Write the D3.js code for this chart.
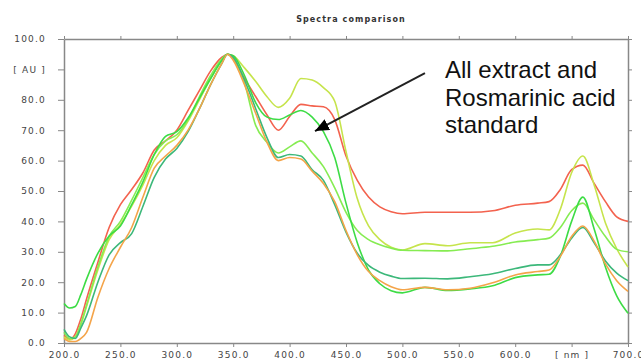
<!DOCTYPE html>
<html>
<head>
<meta charset="utf-8">
<script src="https://cdn.jsdelivr.net/npm/d3@7"></script>
<style>
  body { margin: 0; background: #fff; }
  svg { display: block; }
  .tick text { font-family: "DejaVu Sans", sans-serif; font-size: 9px; fill: #444; letter-spacing: 1.2px; }
  .axis path, .axis line { stroke: #888; }
</style>
</head>
<body>
<div id="vis"></div>
<script>
const FRAME_WIDTH = 641;
const FRAME_HEIGHT = 360;
const MARGINS = {left: 64, right: 13, top: 39, bottom: 17};

// wavelengths [nm]
const wavelengths = [200, 205, 210, 215, 220, 230, 240, 250, 260, 270, 280, 290, 300, 310, 320, 330, 340, 345,
  350, 360, 370, 380, 390, 400, 410, 420, 430, 440, 450, 460, 470, 480, 490, 500, 520, 540, 560, 580,
  600, 620, 630, 640, 650, 660, 670, 680, 690, 700];

// absorbance [AU] per spectrum
const red = [2.5, 1.2, 3, 8, 14.5, 26.5, 38, 45.5, 50.5, 56, 63.5, 66.5, 70, 76.5, 83, 89.5, 94, 95,
  93.5, 87, 81, 75, 70, 74.5, 78.5, 78, 77.7, 73.5, 61.5, 53.5, 48, 44.8, 43.2, 42.5, 43, 43, 43, 43.5,
  45.3, 46, 46.5, 50.5, 57, 58.5, 52.5, 46.5, 41.5, 40];
const yellowGreen = [2, 1, 2, 6, 12, 24, 34, 39, 45, 52, 60, 65, 67.5, 73, 80, 87, 93, 95,
  94.5, 90.5, 86, 81, 77.5, 80.5, 87, 86.5, 84, 79.5, 63, 47.5, 38.5, 34, 31.5, 30.6, 32.7, 32, 33, 33,
  36.2, 37.5, 37.2, 44, 56, 61.5, 52, 39.5, 31, 25];
const lightGreen = [3.5, 1.5, 2, 6.5, 12.5, 25, 35, 40, 47, 54.5, 62, 66.5, 68.5, 73.5, 81, 88, 93.5, 95,
  94, 85.5, 71.5, 66, 62.5, 64.5, 66.5, 62.5, 58, 51, 43, 37, 34, 32.3, 31.2, 30.5, 30.4, 30.3, 31, 31.8,
  33.2, 34, 34.5, 38, 43.5, 46, 40.5, 35, 30.8, 30];
const green = [13, 11.5, 12, 16, 21, 29.5, 35.2, 38.5, 45.5, 53, 62, 68, 69.5, 74, 80.5, 87, 93, 95,
  94.5, 88, 79, 74.3, 73.5, 75, 76.5, 74.3, 69.5, 61, 46, 33, 24, 19.5, 17.2, 16.5, 18.3, 17.3, 17.8, 18.8,
  21.5, 22.4, 22.6, 28.5, 40, 48, 37.5, 25, 15.5, 9.8];
const teal = [4.5, 2, 1.5, 5, 9, 20, 29, 33, 36, 45, 54.5, 60.5, 64, 69.5, 77, 85, 92, 95,
  94, 86.5, 77, 67.5, 61, 62, 61.5, 57, 53.5, 45.5, 36.5, 29.5, 25.5, 23.3, 22, 21.2, 21.3, 21.1, 21.8, 22.8,
  24.5, 25.7, 25.7, 29, 34.5, 38, 33, 27, 23, 20.5];
const orange = [1.5, 0.5, 0.5, 1.5, 3.5, 15, 24.5, 31.5, 38, 48, 57.5, 61.5, 65, 70, 77, 85, 92, 95,
  93, 85, 75.5, 66, 60, 61, 60.5, 56.5, 52.5, 46.5, 37, 29, 23.5, 20.5, 18.5, 17.5, 18.3, 17.5, 18, 19.8,
  22.4, 23.5, 24, 28.5, 35, 38.5, 33.5, 26, 20.5, 17];

const seriesValues = [red, yellowGreen, lightGreen, green, teal, orange];
const seriesColors = ["#f3624e", "#c6e44c", "#86ec52", "#3ddc45", "#3cb87a", "#f4a449"];

const xTicks = [200, 250, 300, 350, 400, 450, 500, 550, 600, 650, 700];
const yTicks = [0, 10, 20, 30, 40, 50, 60, 70, 80, 90, 100];
const xUnitTick = 650;
const yUnitTick = 90;

const VIS_WIDTH = FRAME_WIDTH - MARGINS.left - MARGINS.right;
const VIS_HEIGHT = FRAME_HEIGHT - MARGINS.top - MARGINS.bottom;

const FRAME = d3.select("#vis")
  .append("svg")
    .attr("width", FRAME_WIDTH)
    .attr("height", FRAME_HEIGHT);

const X_SCALE = d3.scaleLinear().domain([200, 700]).range([MARGINS.left, MARGINS.left + VIS_WIDTH]);
const Y_SCALE = d3.scaleLinear().domain([0, 100]).range([MARGINS.top + VIS_HEIGHT, MARGINS.top]);

// title
FRAME.append("text")
  .attr("x", (X_SCALE(200) + X_SCALE(700)) / 2 + 5)
  .attr("y", 22)
  .attr("text-anchor", "middle")
  .style("font-family", "DejaVu Sans, sans-serif")
  .style("font-size", "8px")
  .style("font-weight", "bold")
  .style("letter-spacing", "1.1px")
  .style("fill", "#333")
  .text("Spectra comparison");

// axes
FRAME.append("g")
  .attr("class", "axis")
  .attr("transform", "translate(" + MARGINS.left + ",0)")
  .call(d3.axisLeft(Y_SCALE).tickValues(yTicks).tickSize(6).tickSizeOuter(0).tickPadding(12)
    .tickFormat(d => d === yUnitTick ? "[ AU ]" : d.toFixed(1)));

FRAME.append("g")
  .attr("class", "axis")
  .attr("transform", "translate(0," + (MARGINS.top + VIS_HEIGHT) + ")")
  .call(d3.axisBottom(X_SCALE).tickValues(xTicks).tickSize(4).tickSizeOuter(0).tickPadding(5)
    .tickFormat(d => d === xUnitTick ? "[ nm ]" : d.toFixed(1)));

FRAME.append("g")
  .attr("class", "axis")
  .attr("transform", "translate(0," + MARGINS.top + ")")
  .call(d3.axisTop(X_SCALE).tickValues(xTicks).tickSize(3).tickSizeOuter(0).tickFormat(""));

FRAME.append("g")
  .attr("class", "axis")
  .attr("transform", "translate(" + (MARGINS.left + VIS_WIDTH) + ",0)")
  .call(d3.axisRight(Y_SCALE).tickValues(yTicks).tickSize(4).tickSizeOuter(0).tickFormat(""));

FRAME.selectAll(".axis path").attr("stroke-width", 1.5);

// spectra
const line = d3.line()
  .x((d, i) => X_SCALE(wavelengths[i]))
  .y(d => Y_SCALE(d))
  .curve(d3.curveMonotoneX);

FRAME.selectAll(".spectrum")
  .data(seriesValues)
  .enter()
  .append("path")
    .attr("class", "spectrum")
    .attr("d", d => line(d))
    .attr("fill", "none")
    .attr("stroke", (d, i) => seriesColors[i])
    .attr("stroke-width", 1.6);

// annotation
FRAME.append("defs").append("marker")
  .attr("id", "head")
  .attr("viewBox", "0 0 14 12")
  .attr("refX", 14).attr("refY", 6)
  .attr("markerWidth", 14).attr("markerHeight", 12)
  .attr("markerUnits", "userSpaceOnUse")
  .attr("orient", "auto")
  .append("path")
    .attr("d", "M0,0 L14,6 L0,12 Z")
    .attr("fill", "#000");

FRAME.append("line")
  .attr("x1", X_SCALE(520)).attr("y1", Y_SCALE(88.8))
  .attr("x2", X_SCALE(422.5)).attr("y2", Y_SCALE(69.7))
  .attr("stroke", "#222")
  .attr("stroke-width", 2)
  .attr("marker-end", "url(#head)");

const noteLines = ["All extract and", "Rosmarinic acid", "standard"];
FRAME.append("text")
  .attr("x", 445)
  .attr("y", 78)
  .style("font-family", "Liberation Sans, Arial, sans-serif")
  .style("font-size", "24px")
  .style("fill", "#111")
  .selectAll("tspan")
  .data(noteLines)
  .enter()
  .append("tspan")
    .attr("x", 445)
    .attr("dy", (d, i) => i === 0 ? 0 : 27.5)
    .text(d => d);
</script>
</body>
</html>
